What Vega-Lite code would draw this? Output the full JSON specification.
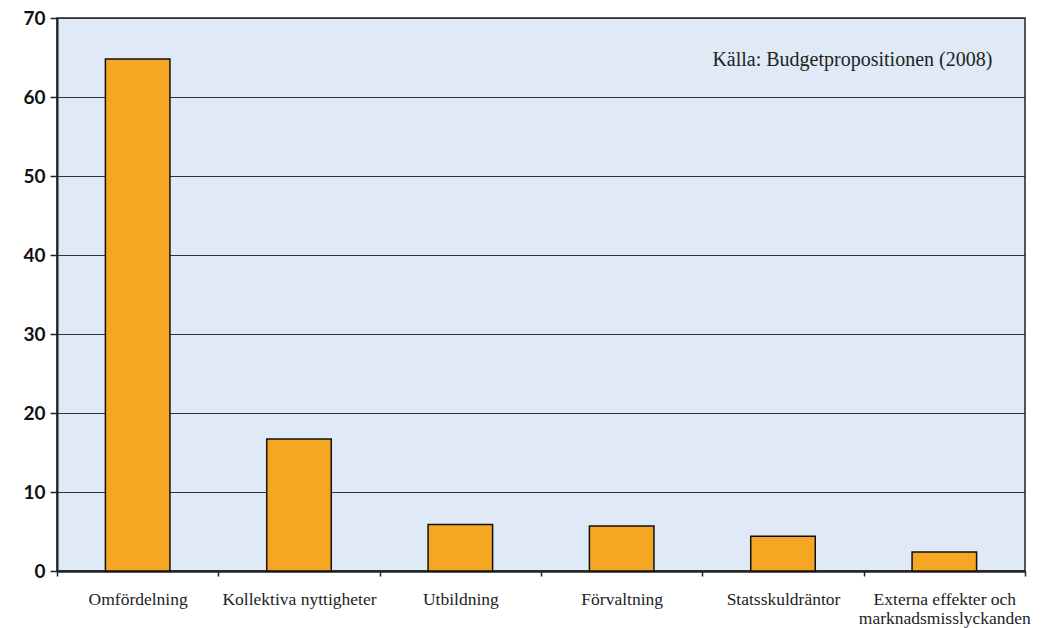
{
  "$schema": "https://vega.github.io/schema/vega-lite/v6.json",
  "width": 968,
  "height": 553,
  "autosize": {"type": "none"},
  "padding": {"left": 57, "top": 18, "right": 24, "bottom": 57},
  "background": "white",
  "config": {
    "view": {"fill": "#DFEAF6", "stroke": "#222", "strokeWidth": 1.5}
  },
  "layer": [
    {
      "data": {
        "values": [
          {"kategori": "Omfördelning", "andel": 64.8},
          {"kategori": "Kollektiva nyttigheter", "andel": 16.7},
          {"kategori": "Utbildning", "andel": 5.9},
          {"kategori": "Förvaltning", "andel": 5.7},
          {"kategori": "Statsskuldräntor", "andel": 4.4},
          {"kategori": "Externa effekter och marknadsmisslyckanden", "andel": 2.4}
        ]
      },
      "mark": {"type": "bar", "fill": "#F5A623", "stroke": "#111", "strokeWidth": 1.5, "width": {"band": 0.4}},
      "encoding": {
        "x": {
          "field": "kategori", "type": "nominal", "sort": null,
          "scale": {"paddingInner": 0, "paddingOuter": 0},
          "axis": {
            "title": null, "labelAngle": 0,
            "labelFont": "Liberation Serif", "labelFontSize": 17.5, "labelFontWeight": "normal", "labelColor": "#222",
            "labelPadding": 14, "labelLineHeight": 19,
            "tickBand": "extent", "tickSize": 5, "tickColor": "#222", "tickWidth": 1.5,
            "domainColor": "#222", "domainWidth": 2.5,
            "labelExpr": "datum.value == 'Externa effekter och marknadsmisslyckanden' ? ['Externa effekter och', 'marknadsmisslyckanden'] : datum.value"
          }
        },
        "y": {
          "field": "andel", "type": "quantitative",
          "scale": {"domain": [0, 70], "nice": false},
          "axis": {
            "title": null, "values": [0, 10, 20, 30, 40, 50, 60, 70],
            "labelFont": "Lato", "labelFontWeight": "bold", "labelFontSize": 19, "labelColor": "#111",
            "labelPadding": 5, "tickSize": 7, "tickColor": "#222", "tickWidth": 1.5,
            "domainColor": "#222", "domainWidth": 2,
            "grid": true, "gridColor": "#333", "gridWidth": 1
          }
        }
      }
    },
    {
      "data": {"values": [{"kategori": "Externa effekter och marknadsmisslyckanden", "andel": 64.7, "notis": "Källa: Budgetpropositionen (2008)"}]},
      "mark": {"type": "text", "align": "right", "baseline": "middle", "dx": 48, "font": "Liberation Serif", "fontSize": 20, "fontWeight": "normal", "color": "#222"},
      "encoding": {
        "x": {"field": "kategori", "type": "nominal", "sort": null},
        "y": {"field": "andel", "type": "quantitative"},
        "text": {"field": "notis", "type": "nominal"}
      }
    }
  ]
}
